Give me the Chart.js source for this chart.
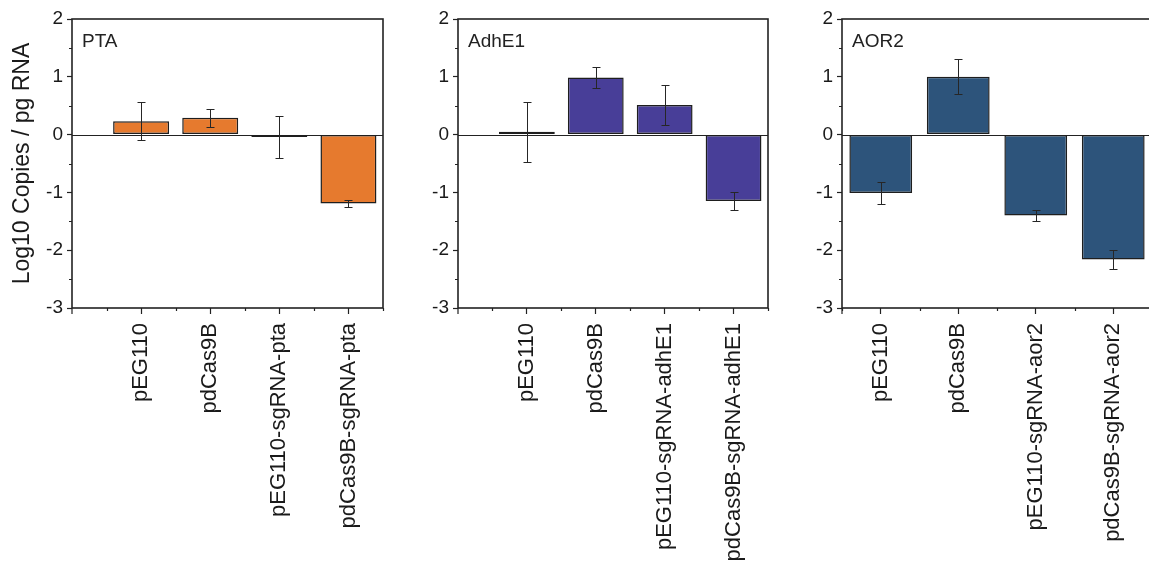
<!DOCTYPE html>
<html>
<head>
<meta charset="utf-8">
<script src="https://cdn.jsdelivr.net/npm/chart.js@4.4.1/dist/chart.umd.min.js"></script>
<style>
  html, body { margin:0; padding:0; background:#fff; overflow:hidden; width:1149px; height:565px; }
  canvas { position:absolute; top:0; }
</style>
</head>
<body>
<canvas id="c1" width="390" height="565" style="left:0px"></canvas>
<canvas id="c2" width="385" height="565" style="left:390px"></canvas>
<canvas id="c3" width="385" height="565" style="left:775px"></canvas>
<script>
// ---- data ----
const yTickValues = [-3, -2, -1, 0, 1, 2];
const yAxisTitle = 'Log10 Copies / pg RNA';

const titlePTA = 'PTA';
const categoriesPTA = ['pEG110', 'pdCas9B', 'pEG110-sgRNA-pta', 'pdCas9B-sgRNA-pta'];
const valuesPTA = [0.23, 0.29, -0.04, -1.19];
const errorsPTA = [0.33, 0.15, 0.37, 0.06];

const titleAdhE1 = 'AdhE1';
const categoriesAdhE1 = ['pEG110', 'pdCas9B', 'pEG110-sgRNA-adhE1', 'pdCas9B-sgRNA-adhE1'];
const valuesAdhE1 = [0.05, 0.99, 0.51, -1.15];
const errorsAdhE1 = [0.52, 0.18, 0.34, 0.16];

const titleAOR2 = 'AOR2';
const categoriesAOR2 = ['pEG110', 'pdCas9B', 'pEG110-sgRNA-aor2', 'pdCas9B-sgRNA-aor2'];
const valuesAOR2 = [-1.01, 1.00, -1.40, -2.16];
const errorsAOR2 = [0.19, 0.30, 0.10, 0.16];

// ---- drawing ----
const FONT = '"Liberation Sans", Arial, Helvetica, sans-serif';
const INK = '#222222';

const panelDeco = {
  id: 'panelDeco',
  beforeDatasetsDraw(chart, args, o) {
    const {ctx, chartArea: a} = chart;
    const y = chart.scales.y;
    ctx.save();
    ctx.strokeStyle = INK;
    ctx.lineWidth = 1.2;
    const y0 = Math.round(y.getPixelForValue(0)) + 0.5;
    ctx.beginPath(); ctx.moveTo(a.left, y0); ctx.lineTo(a.right, y0); ctx.stroke();
    ctx.restore();
  },
  afterDatasetsDraw(chart, args, o) {
    const {ctx, chartArea: a} = chart;
    const x = chart.scales.x, y = chart.scales.y;
    const vals = o.values, errs = o.errors;
    ctx.save();
    ctx.strokeStyle = '#262626';
    ctx.lineWidth = 1;
    vals.forEach((v, i) => {
      const px = Math.round(x.getPixelForValue(i + 1)) + 0.5;
      const t = Math.round(y.getPixelForValue(v + errs[i])) + 0.5;
      const b = Math.round(y.getPixelForValue(v - errs[i])) + 0.5;
      ctx.beginPath();
      ctx.moveTo(px, t); ctx.lineTo(px, b);
      ctx.moveTo(px - 4, t); ctx.lineTo(px + 4, t);
      ctx.moveTo(px - 4, b); ctx.lineTo(px + 4, b);
      ctx.stroke();
    });
    // frame
    ctx.strokeStyle = INK;
    ctx.lineWidth = 1.6;
    ctx.strokeRect(a.left, a.top, a.right - a.left, a.bottom - a.top);
    // minor ticks on y (outside)
    ctx.lineWidth = 1.2;
    ctx.beginPath();
    for (let k = 0; k < yTickValues.length - 1; k++) {
      const mv = (yTickValues[k] + yTickValues[k + 1]) / 2;
      const py = Math.round(y.getPixelForValue(mv)) + 0.5;
      ctx.moveTo(a.left - 3, py); ctx.lineTo(a.left, py);
    }
    // minor ticks on x (outside, between categories) and edge tick
    for (let k = 0; k <= vals.length; k++) {
      const mv = k + 0.5;
      if (mv < x.min - 1e-6 || mv > x.max + 1e-6) continue;
      const px = Math.round(x.getPixelForValue(mv)) + 0.5;
      ctx.moveTo(px, a.bottom); ctx.lineTo(px, a.bottom + 3);
    }
    ctx.moveTo(a.left, a.bottom); ctx.lineTo(a.left, a.bottom + 6);
    ctx.stroke();
    // panel title
    ctx.fillStyle = INK;
    ctx.font = '19px ' + FONT;
    ctx.textBaseline = 'alphabetic';
    ctx.textAlign = 'left';
    ctx.fillText(o.title, a.left + 10, 47);
    ctx.restore();
  }
};

function makePanel(id, title, cats, vals, errs, color, cfg) {
  new Chart(document.getElementById(id), {
    type: 'bar',
    data: {
      datasets: [{
        data: cats.map((c, i) => ({x: i + 1, y: vals[i]})),
        backgroundColor: color,
        borderColor: '#1e1e1e',
        borderWidth: 1.5,
        borderSkipped: false,
        barPercentage: 0.81,
        categoryPercentage: 1
      }]
    },
    plugins: [panelDeco],
    options: {
      responsive: false,
      animation: false,
      layout: {padding: {top: 19, right: cfg.padRight, bottom: 0, left: 0}},
      plugins: {
        legend: {display: false},
        tooltip: {enabled: false},
        panelDeco: {title: title, values: vals, errors: errs}
      },
      scales: {
        x: {
          type: 'linear',
          offset: false,
          min: cfg.xMin,
          max: 4.5,
          afterBuildTicks: s => { s.ticks = cats.map((c, i) => ({value: i + 1})); },
          afterFit: s => { s.height = 257; },
          border: {display: false},
          grid: {display: true, offset: false, drawOnChartArea: false, drawTicks: true, tickLength: 6, tickColor: INK, tickWidth: 1.2},
          ticks: {
            autoSkip: false, minRotation: 90, maxRotation: 90, padding: 9,
            color: '#1a1a1a', font: {family: FONT, size: 22},
            callback: v => cats[Math.round(v) - 1] ?? ''
          }
        },
        y: {
          min: -3, max: 2,
          afterBuildTicks: s => { s.ticks = yTickValues.map(v => ({value: v})); },
          afterFit: s => { s.width = cfg.yWidth; },
          border: {display: false},
          grid: {display: true, drawOnChartArea: false, drawTicks: true, tickLength: 5, tickColor: INK, tickWidth: 1.2},
          ticks: {
            padding: 4, color: '#1a1a1a', font: {family: FONT, size: 19},
            callback: v => String(v)
          },
          title: {
            display: !!cfg.yTitle, text: cfg.yTitle || '',
            color: '#1a1a1a', font: {family: FONT, size: 23},
            padding: {top: 9, bottom: 0}
          }
        }
      }
    }
  });
}

makePanel('c1', titlePTA, categoriesPTA, valuesPTA, errorsPTA, '#E67A2E', {xMin: 0, yWidth: 72, padRight: 7, yTitle: yAxisTitle});
makePanel('c2', titleAdhE1, categoriesAdhE1, valuesAdhE1, errorsAdhE1, '#483E98', {xMin: 0, yWidth: 68, padRight: 7});
makePanel('c3', titleAOR2, categoriesAOR2, valuesAOR2, errorsAOR2, '#2D547B', {xMin: 0.5, yWidth: 67, padRight: 8});
</script>
</body>
</html>
